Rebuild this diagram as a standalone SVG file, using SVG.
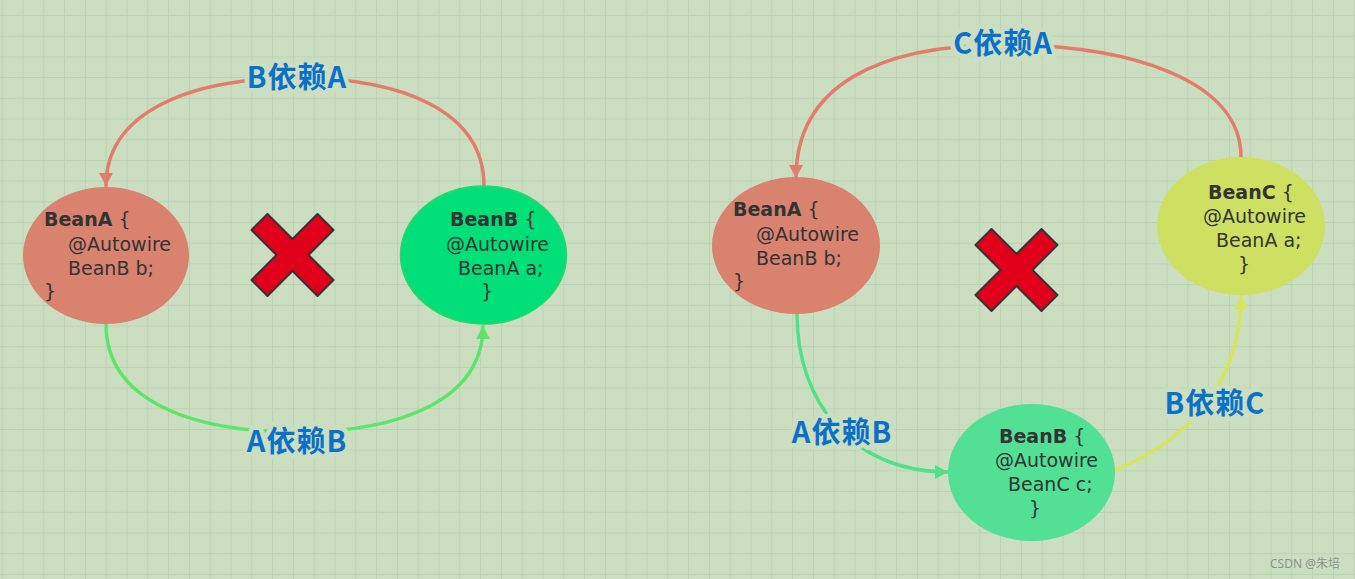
<svg xmlns="http://www.w3.org/2000/svg" width="1355" height="579" viewBox="0 0 1355 579">
<style>
.bg{fill:#cbdfc0}
.nt{font-family:"DejaVu Sans","Noto Sans","Liberation Sans",sans-serif;font-size:19px;fill:#333333}
.nt .b{font-weight:bold}
.lbl{font-family:"Noto Sans CJK SC","Noto Sans",sans-serif;font-size:29px;font-weight:bold;fill:#0b70c8;text-anchor:middle;stroke:#cbdfc0;stroke-width:9;paint-order:stroke;stroke-linejoin:round;letter-spacing:1px}
.c{fill:none;stroke-width:3.5;stroke-linecap:round}
.x{fill:#e0001b;stroke:#333333;stroke-width:2;stroke-linejoin:round}
</style>
<defs>
<pattern id="grid" x="1.7" y="15" width="20.8" height="20.7" patternUnits="userSpaceOnUse">
<path d="M0 0 H20.8 M0 0 V20.7" stroke="#bcd1b3" stroke-width="2" fill="none"/>
</pattern>
<marker id="mR" markerWidth="16" markerHeight="16" refX="13" refY="7" orient="auto" markerUnits="userSpaceOnUse"><path d="M0,0 L13,7 L0,14 z" fill="#e27d6d"/></marker>
<marker id="mG" markerWidth="16" markerHeight="16" refX="13" refY="7" orient="auto" markerUnits="userSpaceOnUse"><path d="M0,0 L13,7 L0,14 z" fill="#5ee46c"/></marker>
<marker id="mM" markerWidth="16" markerHeight="16" refX="13" refY="7" orient="auto" markerUnits="userSpaceOnUse"><path d="M0,0 L13,7 L0,14 z" fill="#4fe08a"/></marker>
<marker id="mY" markerWidth="16" markerHeight="16" refX="13" refY="7" orient="auto" markerUnits="userSpaceOnUse"><path d="M0,0 L13,7 L0,14 z" fill="#d6e65c"/></marker>
<polygon id="xmark" points="-41,-25 -25,-41 0,-16 25,-41 41,-25 16,0 41,25 25,41 0,16 -25,41 -41,25 -16,0"/>
</defs>
<rect class="bg" x="0" y="0" width="1355" height="579"/>
<rect x="0" y="0" width="1355" height="579" fill="url(#grid)"/>

<g id="connectors">
<path class="c" stroke="#e27d6d" marker-end="url(#mR)" d="M484 186 C484 110 400 78 297 78 C190 78 106 112 106 186"/>
<path class="c" stroke="#5ee46c" marker-end="url(#mG)" d="M106 324 C106 400 190 432 297 432 C400 432 483 400 483 326"/>
<path class="c" stroke="#e27d6d" marker-end="url(#mR)" d="M1241 157 C1241 80 1130 45 1003 45 C880 45 796 85 796 178"/>
<path class="c" stroke="#4fe08a" marker-end="url(#mM)" d="M797 314 C797 400 850 472 948 472"/>
<path class="c" stroke="#d6e65c" marker-end="url(#mY)" d="M1115 470 C1190 440 1241 380 1241 296"/>
<text class="lbl" x="297" y="88">B依赖A</text>
<text class="lbl" x="297" y="452">A依赖B</text>
<text class="lbl" x="1003" y="54">C依赖A</text>
<text class="lbl" x="842" y="443">A依赖B</text>
<text class="lbl" x="1215" y="414">B依赖C</text>
</g>

<g id="nodeLeftA">
<ellipse cx="106" cy="255.5" rx="83" ry="68.5" fill="#d98270"/>
<text class="nt"><tspan x="44" y="226"><tspan class="b">BeanA</tspan> {</tspan><tspan x="68" y="251">@Autowire</tspan><tspan x="68" y="275">BeanB b;</tspan><tspan x="44" y="298">}</tspan></text>
</g>
<g id="nodeLeftB">
<ellipse cx="483.5" cy="255" rx="83" ry="69" fill="#00df78" stroke="#2fd56c" stroke-width="1.5"/>
<text class="nt"><tspan x="450" y="226"><tspan class="b">BeanB</tspan> {</tspan><tspan x="446" y="251">@Autowire</tspan><tspan x="458" y="275">BeanA a;</tspan><tspan x="481" y="298">}</tspan></text>
</g>
<g id="nodeRightA">
<ellipse cx="796" cy="245.5" rx="84" ry="68.5" fill="#d98270"/>
<text class="nt"><tspan x="733" y="216"><tspan class="b">BeanA</tspan> {</tspan><tspan x="756" y="241">@Autowire</tspan><tspan x="756" y="265">BeanB b;</tspan><tspan x="733" y="288">}</tspan></text>
</g>
<g id="nodeRightC">
<ellipse cx="1241" cy="226" rx="84" ry="69" fill="#cde062"/>
<text class="nt"><tspan x="1208" y="199"><tspan class="b">BeanC</tspan> {</tspan><tspan x="1203" y="223">@Autowire</tspan><tspan x="1216" y="247">BeanA a;</tspan><tspan x="1238" y="271">}</tspan></text>
</g>
<g id="nodeRightB">
<ellipse cx="1031.5" cy="472.5" rx="83.5" ry="68.5" fill="#52e094"/>
<text class="nt"><tspan x="999" y="443"><tspan class="b">BeanB</tspan> {</tspan><tspan x="995" y="467">@Autowire</tspan><tspan x="1008" y="491">BeanC c;</tspan><tspan x="1029" y="515">}</tspan></text>
</g>

<g id="crossLeft"><use href="#xmark" class="x" x="292.5" y="255"/></g>
<g id="crossRight"><use href="#xmark" class="x" x="1016.5" y="270"/></g>

<text x="1340" y="568" text-anchor="end" font-family="'Noto Sans','Noto Sans CJK SC',sans-serif" font-size="12" fill="#8c918c">CSDN @朱培</text>
</svg>
